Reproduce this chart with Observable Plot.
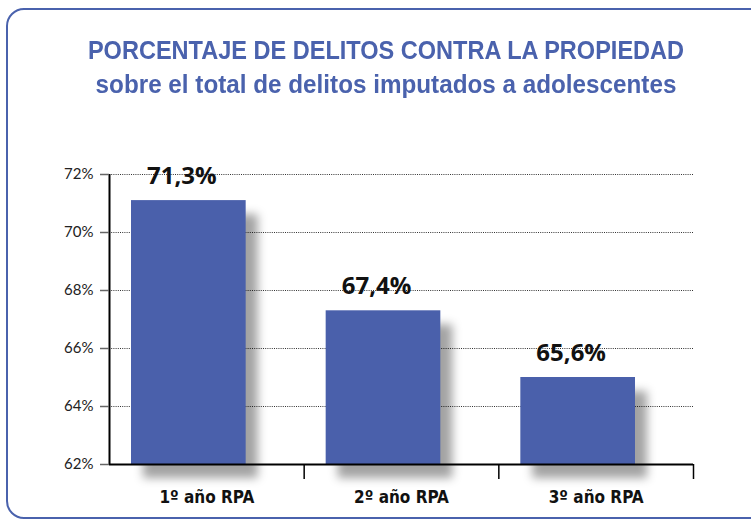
<!DOCTYPE html>
<html>
<head>
<meta charset="utf-8">
<script src="https://cdn.jsdelivr.net/npm/d3@7"></script>
<script src="https://cdn.jsdelivr.net/npm/@observablehq/plot@0.6"></script>
<style>
  html, body { margin: 0; padding: 0; background: #fff; }
  body { width: 751px; height: 524px; overflow: hidden; position: relative; }
  #box { position: absolute; left: 6px; top: 8px; width: 764px; height: 511px;
         border: 2px solid #4a62ad; border-radius: 18px; box-sizing: border-box; }
  .ttl { position: absolute; left: 0; width: 772px; text-align: center; color: #4a62ad;
         font-family: "Liberation Sans", sans-serif; font-weight: bold; white-space: nowrap;
         transform-origin: 386px 0; }
  #title { top: 37px; font-size: 26px; line-height: 26px; transform: scaleX(0.905); }
  #subtitle { top: 71px; font-size: 25px; line-height: 26px; transform: scaleX(0.97); }
  #chart { position: absolute; left: 0; top: 130px; }
  #chart g[aria-label="rect"] { filter: drop-shadow(12px 14px 5px rgba(0,0,0,0.36)); }
</style>
</head>
<body>
<div id="box"></div>
<div id="title" class="ttl">PORCENTAJE DE DELITOS CONTRA LA PROPIEDAD</div>
<div id="subtitle" class="ttl">sobre el total de delitos imputados a adolescentes</div>
<div id="chart"></div>
<script>
const categories = ["1º año RPA", "2º año RPA", "3º año RPA"];
const barValues = [71.1, 67.3, 65.0];
const valueLabels = ["71,3%", "67,4%", "65,6%"];
const yTicks = [62, 64, 66, 68, 70, 72];

const data = categories.map((c, i) => ({ i, cat: c, v: barValues[i], label: valueLabels[i] }));

const chart = Plot.plot({
  width: 751,
  height: 394,
  marginLeft: 109,
  marginRight: 58,
  marginTop: 44,
  marginBottom: 60,
  style: { background: "transparent", fontFamily: "Lato, sans-serif", overflow: "visible" },
  x: { domain: [0, categories.length], label: null },
  y: { domain: [62, 72], label: null },
  marks: [
    Plot.gridY(yTicks.slice(1), { stroke: "#333", strokeOpacity: 1, strokeDasharray: "1,1.2", strokeWidth: 1 }),
    Plot.rectY(data, { x1: d => d.i, x2: d => d.i + 1, y1: 62, y2: "v", fill: "#4a60ab", insetLeft: 22, insetRight: 58 }),
    Plot.ruleY([62], { stroke: "#000", strokeWidth: 2 }),
    Plot.ruleX([0], { stroke: "#000", strokeWidth: 2 }),
    Plot.axisY({ ticks: yTicks, tickFormat: d => d + "%", tickSize: 9, tickPadding: 7, fontSize: 15, stroke: "#666", fill: "#222", strokeWidth: 1.5 }),
    Plot.axisX({ ticks: d3.range(1, categories.length + 1), tickFormat: () => "", tickSize: 15, stroke: "#000", strokeWidth: 1.5 }),
    Plot.axisX({ ticks: categories.map((c, i) => i + 0.5), tickFormat: d => categories[Math.floor(d)], tickSize: 0, tickPadding: 26,
                 fontSize: 17, fontWeight: "bold", fill: "#111", fontFamily: "Liberation Sans Narrow, DejaVu Sans Condensed, sans-serif" }),
    Plot.text(data, { x: d => d.i + 0.5, y: "v", text: "label", dx: -25, dy: -17, lineAnchor: "bottom",
                      fontSize: 24, fontWeight: "bold", fill: "#111", fontFamily: "Open Sans, sans-serif" })
  ]
});
document.getElementById("chart").appendChild(chart);
</script>
</body>
</html>
